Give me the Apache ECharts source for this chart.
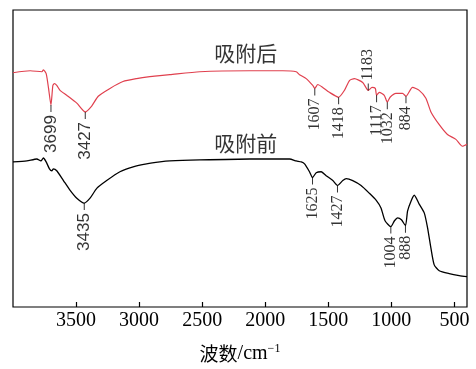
<!DOCTYPE html>
<html><head><meta charset="utf-8">
<script src="https://cdn.jsdelivr.net/npm/echarts@6/dist/echarts.min.js"></script>
<style>html,body{margin:0;padding:0;background:#fff}#c{width:476px;height:369px}</style>
</head><body><div id="c"></div>
<script>
// wavenumber (cm-1), relative transmittance (a.u.)
const afterSpectrum = [
[4000,239],[3863,241],[3771,240],[3759,242],[3737,238],[3718,223],[3699,206],[3684,226],[3672,228],[3653,226],[3627,221],[3574,216],[3494,208],[3427,199],[3376,205],[3324,215],[3231,223],[3128,230],[3020,233],[2915,235],[2835,236],[2756,237],[2519,240],[2123,241],[1862,241],[1754,240],[1728,237],[1675,233],[1623,226],[1607,223],[1583,227],[1544,224],[1491,219],[1418,214],[1372,221],[1332,231],[1293,233],[1227,229],[1183,221],[1153,224],[1127,223],[1117,216],[1095,219],[1056,216],[1032,209],[1010,214],[963,218],[911,218],[884,215],[832,224],[779,221],[726,213],[686,199],[620,186],[555,176],[488,171],[436,164],[400,166]
];
const beforeSpectrum = [
[4000,148],[3890,149],[3811,151],[3779,149],[3759,152],[3737,148],[3711,141],[3692,139],[3680,141],[3653,139],[3600,129],[3547,119],[3494,111],[3435,106],[3389,111],[3336,121],[3257,129],[3152,138],[3047,143],[2941,146],[2835,148],[2756,149],[2519,150],[2123,151],[1807,151],[1754,149],[1714,148],[1688,146],[1649,138],[1625,132],[1596,137],[1556,138],[1517,134],[1464,129],[1427,124],[1385,129],[1358,131],[1306,129],[1240,124],[1174,116],[1121,109],[1082,101],[1050,88],[1004,82],[975,88],[950,91],[920,89],[888,83],[871,98],[844,108],[818,114],[779,105],[739,96],[713,81],[686,60],[660,43],[620,37],[541,34],[462,32],[400,31]
];
const afterPeaksSans = [3699, 3427];
const afterPeaksSerif = [1607, 1418, 1117, 1032, 884];
const afterPeaksUp = [1183];
const beforePeaksSans = [3435];
const beforePeaksSerif = [1625, 1427, 1004, 888];
const xTicks = [3500, 3000, 2500, 2000, 1500, 1000, 500];
const curveNames = ['吸附后', '吸附前'];
const curveNamePos = [[2155, 259], [2155, 167]];

const valAt = (arr, wn) => arr.find(p => p[0] === wn)[1];
const peakPts = (arr, list) => list.map(w => [w, valAt(arr, w)]);

const sansFont = "'Liberation Sans Narrow','Liberation Sans',sans-serif";
const serifFont = "'Liberation Serif','Times New Roman',serif";

function peakSeries(arr, list, font, up) {
  return {
    type: 'scatter', data: peakPts(arr, list), silent: true, z: 5,
    symbol: 'rect', symbolSize: [1, 7], symbolOffset: [0, up ? '-50%' : '50%'],
    itemStyle: {color: '#000'},
    label: {
      show: true, position: up ? 'top' : 'bottom', distance: 3, rotate: 90,
      align: up ? 'left' : 'right', verticalAlign: 'middle',
      formatter: p => String(p.value[0]), color: '#000',
      fontFamily: font, fontSize: font === sansFont ? 17 : 16
    }
  };
}

const chart = echarts.init(document.getElementById('c'));
chart.setOption({
  animation: false,
  grid: {left: 13, right: 9, top: 10, bottom: 56, show: true, borderColor: '#000', borderWidth: 1.2, backgroundColor: 'transparent'},
  xAxis: {
    type: 'value', min: 400, max: 4000, inverse: true,
    axisLine: {show: false},
    splitLine: {show: false},
    axisTick: {show: true, inside: true, length: 5, lineStyle: {color: '#000', width: 1.2}, customValues: xTicks},
    axisLabel: {customValues: xTicks, formatter: v => String(v), color: '#000', fontFamily: serifFont, fontSize: 20, margin: 4},
    name: '{a|波数}{b|/cm}{c|−1}', nameLocation: 'middle', nameGap: 36,
    nameTextStyle: {
      rich: {
        a: {fontFamily: "'Noto Sans CJK SC'", fontSize: 19, color: '#000'},
        b: {fontFamily: serifFont, fontSize: 20, color: '#000'},
        c: {fontFamily: serifFont, fontSize: 12, color: '#000', verticalAlign: 'top', padding: [0,0,10,0]}
      }
    }
  },
  yAxis: {type: 'value', min: 0, max: 303, show: false},
  series: [
    {type: 'line', data: afterSpectrum, showSymbol: false, smooth: 0.2, lineStyle: {color: '#e0404e', width: 1.2}, itemStyle: {color: '#e0404e'}, z: 3},
    {type: 'line', data: beforeSpectrum, showSymbol: false, smooth: 0.2, lineStyle: {color: '#000', width: 1.3}, itemStyle: {color: '#000'}, z: 3},
    peakSeries(afterSpectrum, afterPeaksSans, sansFont, false),
    peakSeries(afterSpectrum, afterPeaksSerif, serifFont, false),
    peakSeries(afterSpectrum, afterPeaksUp, serifFont, true),
    peakSeries(beforeSpectrum, beforePeaksSans, sansFont, false),
    peakSeries(beforeSpectrum, beforePeaksSerif, serifFont, false),
    {
      type: 'scatter', symbolSize: 0, silent: true,
      data: curveNamePos.map((p, i) => ({name: curveNames[i], value: p})),
      label: {show: true, position: 'inside', formatter: p => p.name, color: '#000', fontFamily: "'Noto Sans CJK SC'", fontSize: 21}
    }
  ]
});
</script></body></html>
